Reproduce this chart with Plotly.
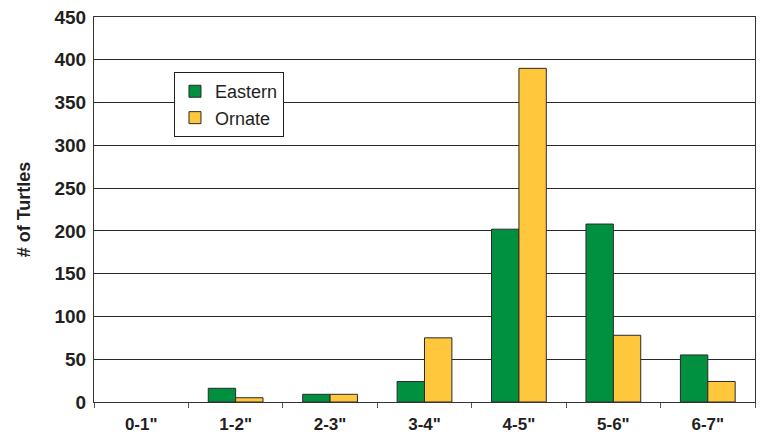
import plotly.graph_objects as go

categories = ['0-1"', '1-2"', '2-3"', '3-4"', '4-5"', '5-6"', '6-7"']
eastern = [0, 16, 9, 24, 202, 208, 55]
ornate = [0, 5, 9, 75, 390, 78, 24]
y_ticks = [0, 50, 100, 150, 200, 250, 300, 350, 400, 450]

FONT = "Liberation Sans, Arial, sans-serif"
INK = "#231f20"


def bar_trace(name, values, color):
    # Points are fed largest-bin first (the axis keeps the category order),
    # so the legend swatch picks up a bordered bar; empty bins get no outline.
    xs = categories[::-1]
    ys = values[::-1]
    widths = [0 if v == 0 else 1 for v in ys]
    return go.Bar(name=name, x=xs, y=ys,
                  marker=dict(color=color, line=dict(color="#2a2a2a", width=widths)))


fig = go.Figure()
fig.add_trace(bar_trace("Eastern", eastern, "#009140"))
fig.add_trace(bar_trace("Ornate", ornate, "#FFC83C"))

fig.update_layout(
    width=764, height=437,
    margin=dict(l=94, r=9, t=17, b=35, autoexpand=False),
    paper_bgcolor="white", plot_bgcolor="white",
    barmode="group", bargap=0.42, bargroupgap=0,
    font=dict(family=FONT, color=INK),
    legend=dict(
        x=0.121, y=0.857, xanchor="left", yanchor="top",
        bgcolor="white", bordercolor=INK, borderwidth=1,
        font=dict(size=18, color=INK),
        itemwidth=30, tracegroupgap=5,
        entrywidth=82, entrywidthmode="pixels",
    ),
    showlegend=True,
)
fig.update_xaxes(
    automargin=False,
    categoryorder="array", categoryarray=categories,
    showline=True, linecolor="#333", linewidth=1, mirror=True,
    ticks="outside", tickson="boundaries", ticklen=5, tickcolor="#555",
    ticklabelstandoff=7,
    tickfont=dict(size=17, family=FONT, weight="bold", color=INK),
    showgrid=False,
)
fig.update_yaxes(
    automargin=False,
    range=[0, 450], tickvals=y_ticks,
    showline=True, linecolor="#333", linewidth=1, mirror=True,
    showgrid=True, gridcolor="#2a2a2a", gridwidth=1,
    ticks="", zeroline=False, ticklabelstandoff=3,
    tickfont=dict(size=19, family=FONT, weight="bold", color=INK),
    title=dict(text="# of Turtles", standoff=19,
               font=dict(size=18, family=FONT, weight="bold", color=INK)),
)

fig.write_html("out.html")
